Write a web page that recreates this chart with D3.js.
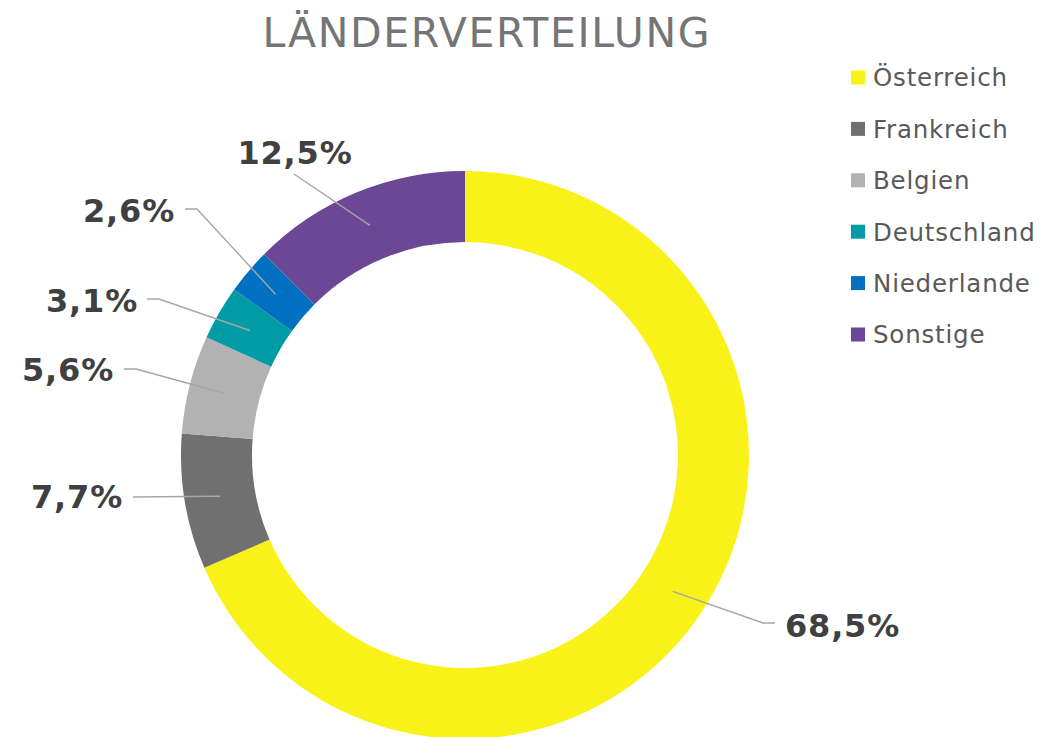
<!DOCTYPE html>
<html><head><meta charset="utf-8">
<script src="https://cdn.jsdelivr.net/npm/d3@7"></script>
<style>body{margin:0;background:#fff}svg{display:block}</style>
</head><body>
<svg id="c" width="1040" height="737"></svg>
<script>
const categories = ["Österreich","Frankreich","Belgien","Deutschland","Niederlande","Sonstige"];
const values = [68.5, 7.7, 5.6, 3.1, 2.6, 12.5];
const labels = ["68,5%","7,7%","5,6%","3,1%","2,6%","12,5%"];
const colors = ["#f9f218","#707070","#b2b2b2","#009ba4","#0070c0","#6c4795"];
const title = "LÄNDERVERTEILUNG";

// layout (label anchors: text anchor point + elbow)
const labelLayout = [
  {tx:785, ty:626, anchor:"start", elbow:[[763,623],[775,623]]},
  {tx:123, ty:497, anchor:"end", elbow:[[133,497]]},
  {tx:114, ty:370, anchor:"end", elbow:[[136,369],[124,369]]},
  {tx:138, ty:301, anchor:"end", elbow:[[159,299],[147,299]]},
  {tx:175, ty:211, anchor:"end", elbow:[[197,209],[185,209]]},
  {tx:295, ty:153, anchor:"middle", elbow:[[294,174]]}
];

const svg = d3.select("#c");
const cx = 465, cy = 455, rO = 284, rI = 213;

svg.append("text").attr("x",486).attr("y",47).attr("text-anchor","middle")
  .attr("font-family","DejaVu Sans, Verdana, sans-serif").attr("font-size",41)
  .attr("fill","#757575").attr("textLength",447).attr("lengthAdjust","spacing").text(title);

const pie = d3.pie().sort(null).value(d=>d)(values);
const arc = d3.arc().innerRadius(rI).outerRadius(rO);
const g = svg.append("g").attr("transform",`translate(${cx},${cy})`);
g.selectAll("path").data(pie).join("path").attr("d",arc).attr("fill",(d,i)=>colors[i]);

const mid = d3.arc().innerRadius((rI+rO)/2).outerRadius((rI+rO)/2);
pie.forEach((d,i)=>{
  const c = mid.centroid(d);
  const L = labelLayout[i];
  const pts = [[cx+c[0], cy+c[1]], ...L.elbow];
  svg.append("path").attr("d", d3.line()(pts)).attr("fill","none")
    .attr("stroke","#a6a6a6").attr("stroke-width",1.4);
  svg.append("text").attr("x",L.tx).attr("y",L.ty).attr("dy","0.35em")
    .attr("text-anchor",L.anchor).attr("font-family","DejaVu Sans, Verdana, sans-serif")
    .attr("font-weight","bold").attr("font-size",32).attr("letter-spacing",0.8)
    .attr("fill","#404040").text(labels[i]);
});

const leg = svg.append("g");
categories.forEach((c,i)=>{
  const y = 77.5 + i*51.4;
  leg.append("rect").attr("x",851).attr("y",y-7).attr("width",14).attr("height",14).attr("fill",colors[i]);
  leg.append("text").attr("x",873).attr("y",y).attr("dy","0.36em")
    .attr("font-family","DejaVu Sans, Verdana, sans-serif").attr("font-size",24.5)
    .attr("letter-spacing",0.8).attr("fill","#595959").text(c);
});
</script>
</body></html>
